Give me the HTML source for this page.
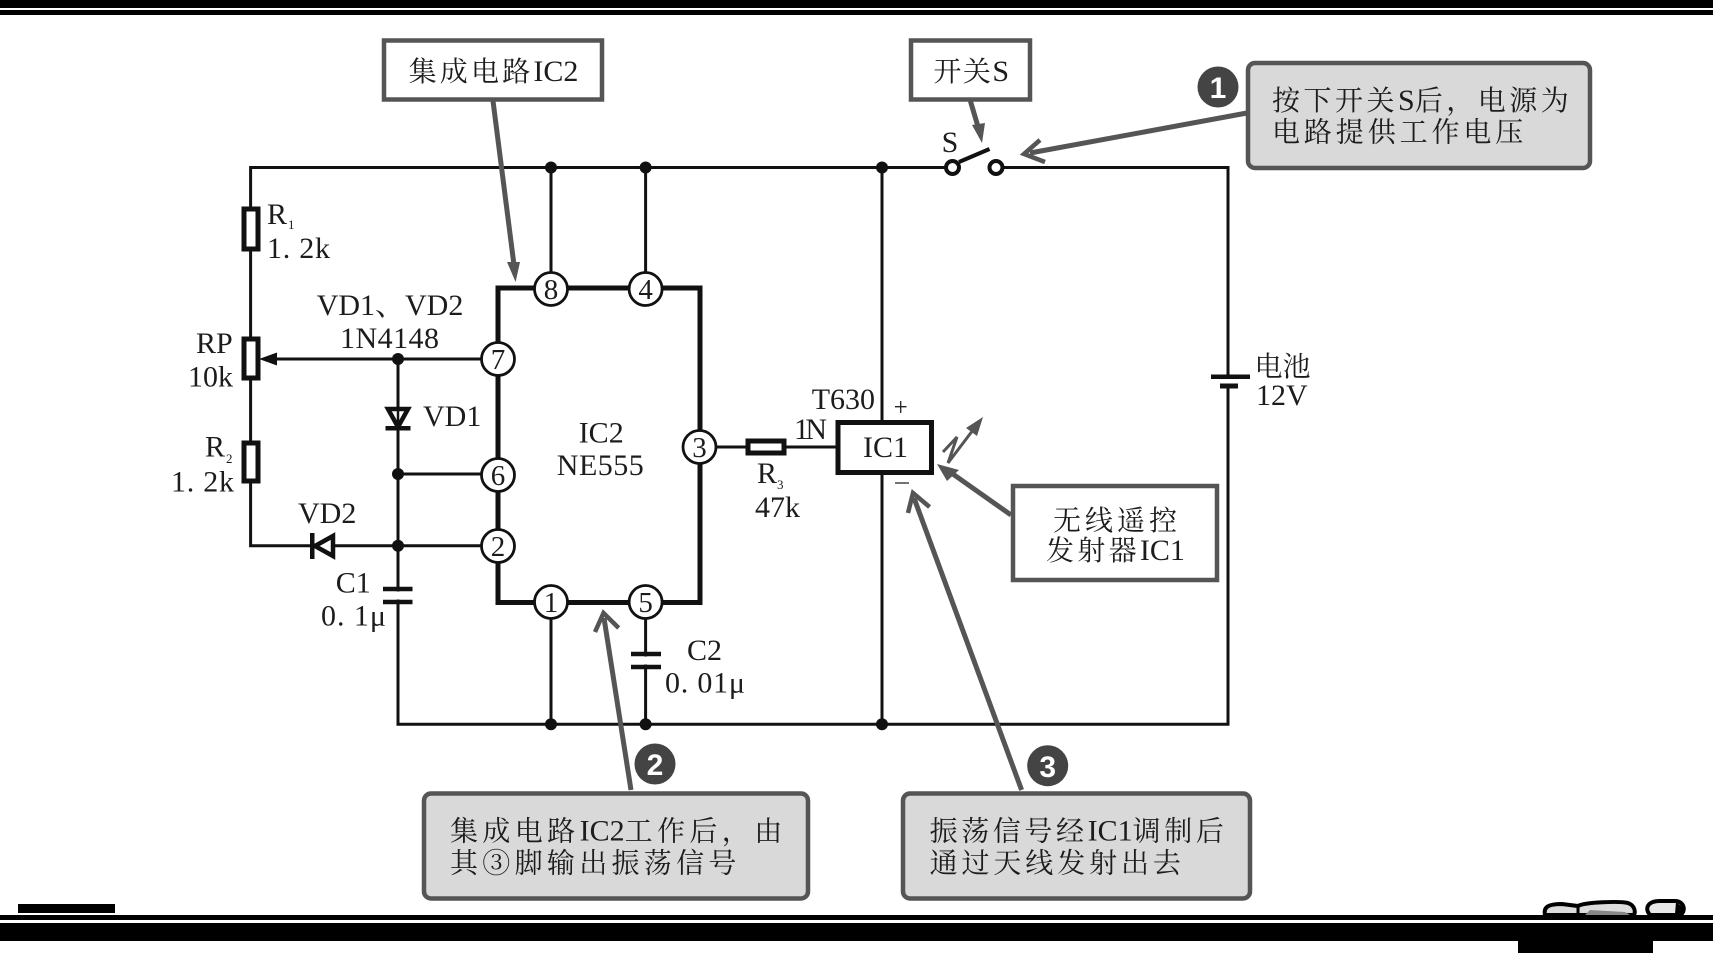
<!DOCTYPE html>
<html><head><meta charset="utf-8"><style>
html,body{margin:0;padding:0;background:#fff}
svg{display:block}
text{font-family:"Liberation Serif","Noto Serif CJK SC",serif;fill:#1c1c1c;font-size:30px}
.z{font-size:28px;font-family:"Noto Serif CJK SC","Liberation Serif",serif}
.p{font-size:29px;text-anchor:middle}
.s{font-size:13px}
.b{font-family:"Liberation Sans","Noto Sans CJK SC",sans-serif;font-weight:bold;font-size:30px;fill:#fff;text-anchor:middle}
</style></head><body>
<svg width="1713" height="953" viewBox="0 0 1713 953" xmlns="http://www.w3.org/2000/svg">
<rect width="1713" height="953" fill="#fff"/>
<!-- page bars -->
<rect x="0" y="0" width="1713" height="8"/><rect x="0" y="10" width="1713" height="5"/>
<rect x="18" y="904" width="97" height="9"/>
<rect x="0" y="915" width="1713" height="5"/><rect x="0" y="923" width="1713" height="18"/>
<rect x="1518" y="941" width="135" height="12"/>
<!-- blobs -->
<path d="M1545 915 C1543 906 1550 904 1562 904 L1578 906 C1585 902 1620 901 1628 903 C1634 905 1636 911 1634 915Z" fill="#dcdcdc" stroke="#000" stroke-width="4"/>
<path d="M1578 906V914" stroke="#000" stroke-width="3"/>
<path d="M1590 910L1625 912L1630 915H1585Z" fill="#888"/>
<path d="M1650 915 C1644 908 1648 901 1660 901 L1676 901 C1685 902 1686 912 1680 915Z" fill="#e8e8e8" stroke="#000" stroke-width="4"/>
<path d="M1676 902L1684 908L1680 915L1675 914Z" fill="#000"/>
<!-- wires -->
<g fill="none" stroke="#111" stroke-width="3">
<path d="M953 167.5H250.6V545.7H481"/>
<path d="M996 167.5H1228V724.3H398V359"/>
<path d="M551 167.5V272M645.6 167.5V272"/>
<path d="M882 167.5V724.3"/>
<path d="M551 619V724.3M645.6 619V724.3"/>
<path d="M265 359H481M398 474H481"/>
<path d="M716 447H836"/>
</g>
<!-- IC2 body -->
<rect x="498" y="288" width="202" height="314.5" fill="#fff" stroke="#111" stroke-width="5"/>
<path d="M398 359V589M398 602V724" stroke="#111" stroke-width="3" fill="none"/>
<!-- resistors -->
<g fill="#fff" stroke="#111" stroke-width="5">
<rect x="244" y="209" width="14" height="40"/>
<rect x="244" y="339" width="14" height="39"/>
<rect x="244" y="443" width="14" height="38"/>
<rect x="748" y="441" width="36" height="12"/>
</g>
<!-- RP wiper arrow -->
<path d="M259 359L277 352.5V365.5Z" fill="#111"/>
<!-- VD1 -->
<path d="M388 409H408L398 427Z" fill="#fff" stroke="#111" stroke-width="4.5"/>
<rect x="385.5" y="426" width="25" height="4.5" fill="#111"/>
<path d="M398 407V428" stroke="#111" stroke-width="2.5"/>
<!-- VD2 -->
<rect x="310" y="533" width="4.5" height="26" fill="#111"/>
<path d="M333 536V556L315 546Z" fill="#fff" stroke="#111" stroke-width="4.5"/>
<!-- capacitors -->
<g fill="none" stroke="#111" stroke-width="4.5">
<path d="M383 589H412.5M383 602H412.5"/>
<path d="M631 654H661M631 667H661"/>
</g>
<rect x="385" y="591.5" width="26" height="8" fill="#fff"/>
<rect x="633" y="656.5" width="26" height="8" fill="#fff"/>
<!-- battery -->
<rect x="1220" y="378" width="16" height="8" fill="#fff"/>
<rect x="1211" y="374.5" width="39" height="4.5" fill="#111"/>
<rect x="1220" y="383.5" width="18" height="5" fill="#111"/>
<!-- junctions -->
<g fill="#111">
<circle cx="551" cy="167.5" r="6"/><circle cx="645.6" cy="167.5" r="6"/><circle cx="882" cy="167.5" r="6"/>
<circle cx="398" cy="359" r="6"/><circle cx="398" cy="474" r="6"/><circle cx="398" cy="545.7" r="6"/>
<circle cx="551" cy="724.3" r="6"/><circle cx="645.6" cy="724.3" r="6"/><circle cx="882" cy="724.3" r="6"/>
</g>
<!-- pins -->
<g fill="#fff" stroke="#111" stroke-width="2.8">
<circle cx="551" cy="289" r="16.5"/><circle cx="645.6" cy="289" r="16.5"/>
<circle cx="498" cy="359" r="16.5"/><circle cx="498" cy="475" r="16.5"/><circle cx="498" cy="546" r="16.5"/>
<circle cx="551" cy="602" r="16.5"/><circle cx="645.6" cy="602" r="16.5"/><circle cx="699.5" cy="447" r="16.5"/>
</g>
<text class="p" x="551" y="299">8</text><text class="p" x="645.6" y="299">4</text>
<text class="p" x="498" y="369">7</text><text class="p" x="498" y="485">6</text><text class="p" x="498" y="556">2</text>
<text class="p" x="551" y="612">1</text><text class="p" x="645.6" y="612">5</text><text class="p" x="699.5" y="457">3</text>
<!-- switch -->
<g fill="#fff" stroke="#111" stroke-width="4"><circle cx="952.5" cy="167.5" r="6.5"/><circle cx="996" cy="167.5" r="6.5"/></g>
<path d="M959 162L989.5 149" stroke="#111" stroke-width="4"/>
<!-- IC1 -->
<rect x="838" y="422.5" width="93.5" height="50" fill="#fff" stroke="#111" stroke-width="5"/>
<path d="M895 406.7H906.5M900.7 401V413M895 483H909" stroke="#222" stroke-width="1.3" fill="none"/>
<!-- antenna -->
<g fill="none" stroke="#555" stroke-width="3">
<path d="M943 452L957 437L948 463L973 430"/>
</g>
<path d="M983 417L977 436L966 428Z" fill="#555"/>
<!-- label boxes -->
<g fill="#fff" stroke="#555" stroke-width="4.5">
<rect x="384" y="40.5" width="218" height="59"/>
<rect x="911" y="40.5" width="119" height="59"/>
<rect x="1013" y="486" width="204" height="94"/>
</g>
<g fill="#d9d9d9" stroke="#555" stroke-width="4.5">
<rect x="1248" y="63" width="342" height="105" rx="7"/>
<rect x="424" y="793.5" width="384" height="105" rx="7"/>
<rect x="903" y="793.5" width="347" height="105" rx="7"/>
</g>
<!-- gray arrows -->
<g fill="none" stroke="#555" stroke-width="5">
<path d="M493 101L514 265"/>
<path d="M970.4 101L979 130"/>
<path d="M1247 113L1030 153"/>
<path d="M1040 140L1024 154L1045 162" stroke-width="4.5"/>
<path d="M1011 515L950 472"/>
<path d="M631 790L604 618"/>
<path d="M595 632L603.5 613L618.7 628" stroke-width="4.5"/>
<path d="M1021.6 790L914 498"/>
<path d="M908 513L913 493L929.6 507" stroke-width="4.5"/>
</g>
<path d="M515.6 282L507 262L520 262Z" fill="#555"/>
<path d="M982 143L972 125L985 123Z" fill="#555"/>
<path d="M937 464L959 470L947 481Z" fill="#555"/>
<!-- badges -->
<g fill="#444"><circle cx="1218" cy="87" r="20.5"/><circle cx="655" cy="764" r="20.5"/><circle cx="1047.7" cy="765.7" r="20.5"/></g>
<text class="b" x="1218" y="98">1</text><text class="b" x="655" y="775">2</text><text class="b" x="1047.7" y="777">3</text>
<!-- labels -->
<text x="408.6" y="81"><tspan class="z" letter-spacing="3.2">集成电路</tspan>IC2</text>
<text x="933.4" y="81"><tspan class="z" letter-spacing="1.5">开关</tspan>S</text>
<text x="941.6" y="152">S</text>
<text x="1272" y="110"><tspan class="z" letter-spacing="3.5">按下开关</tspan>S<tspan class="z" letter-spacing="3.5">后，电源为</tspan></text>
<text x="1272" y="141.6" class="z" letter-spacing="3.9">电路提供工作电压</text>
<text x="1053" y="530" class="z" letter-spacing="4">无线遥控</text>
<text x="1046" y="560"><tspan class="z" letter-spacing="3.3">发射器</tspan>IC1</text>
<text x="450" y="840.7"><tspan class="z" letter-spacing="4.4">集成电路</tspan>IC2<tspan class="z" letter-spacing="4.4">工作后，由</tspan></text>
<text x="450" y="872.7" class="z" letter-spacing="4.3">其③脚输出振荡信号</text>
<text x="929.6" y="840.7"><tspan class="z" letter-spacing="3.6">振荡信号经</tspan>IC1<tspan class="z" letter-spacing="3.6">调制后</tspan></text>
<text x="929.6" y="872.7" class="z" letter-spacing="3.9">通过天线发射出去</text>
<text x="1254.5" y="376" class="z">电池</text>
<text x="1256" y="405">12V</text>
<text x="267" y="224">R</text><text class="s" x="288" y="229">1</text>
<text x="267" y="258" textLength="63" lengthAdjust="spacing">1. 2k</text>
<text x="196" y="353">RP</text>
<text x="188" y="386.7">10k</text>
<text x="205" y="456.7">R</text><text class="s" x="226" y="463">2</text>
<text x="171" y="491.7" textLength="63" lengthAdjust="spacing">1. 2k</text>
<text x="316.7" y="315">VD1、VD2</text>
<text x="340" y="348" textLength="99" lengthAdjust="spacing">1N4148</text>
<text x="423" y="426">VD1</text>
<text x="298" y="523">VD2</text>
<text x="578.7" y="442.7">IC2</text>
<text x="556.8" y="475" textLength="87" lengthAdjust="spacing">NE555</text>
<text x="757" y="483">R</text><text class="s" x="777" y="489">3</text>
<text x="755" y="517">47k</text>
<text x="811.7" y="409">T630</text>
<text x="794" y="439" textLength="33" lengthAdjust="spacing">1N</text>
<text x="863" y="457">IC1</text>
<text x="335.7" y="592.7">C1</text>
<text x="321" y="625.7" textLength="65" lengthAdjust="spacing">0. 1μ</text>
<text x="687" y="660">C2</text>
<text x="665" y="692.7" textLength="80" lengthAdjust="spacing">0. 01μ</text>
</svg>
</body></html>
